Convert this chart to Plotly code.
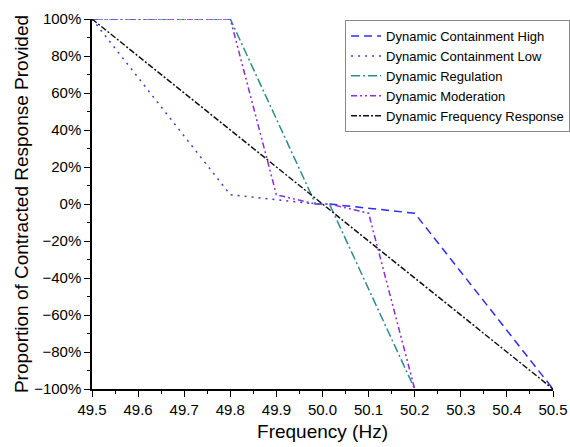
import plotly.graph_objects as go

dch_x = [50.015, 50.2, 50.5]
dch_y = [0, -5, -100]
dcl_x = [49.5, 49.8, 49.985]
dcl_y = [100, 5, 0]
dr_x = [49.5, 49.8, 49.985, 50.015, 50.2]
dr_y = [100, 100, 0, 0, -100]
dm_x = [49.5, 49.8, 49.9, 49.985, 50.015, 50.1, 50.2]
dm_y = [100, 100, 5, 0, 0, -5, -100]
dfr_x = [49.5, 50.5]
dfr_y = [100, -100]

names = ["Dynamic Containment High", "Dynamic Containment Low", "Dynamic Regulation",
         "Dynamic Moderation", "Dynamic Frequency Response"]
xs = [dch_x, dcl_x, dr_x, dm_x, dfr_x]
ys = [dch_y, dcl_y, dr_y, dm_y, dfr_y]
colors = ["#2b2bff", "#3b3bdd", "#2e8b8b", "#8a2be2", "#111111"]
dashes = ["8px,5px", "2px,5px", "9px,3px,2px,3px", "6px,3px,2px,3px,2px,3px", "6px,2px,2px,2px"]

fig = go.Figure()
for x, y, n, c, d in zip(xs, ys, names, colors, dashes):
    fig.add_trace(go.Scatter(x=x, y=y, name=n, mode="lines",
                             line=dict(color=c, dash=d, width=1.5)))

fig.update_layout(
    width=570, height=447,
    margin=dict(l=92, r=17, t=19, b=58, autoexpand=False),
    plot_bgcolor="white", paper_bgcolor="white",
    font=dict(family="Liberation Sans, Arial", color="black", size=15),
    legend=dict(x=1.037, xanchor="right", y=0.997, yanchor="top",
                bordercolor="#888888", borderwidth=1, bgcolor="white",
                font=dict(size=13), tracegroupgap=0, itemwidth=30),
    showlegend=True,
)
fig.update_xaxes(range=[49.5, 50.5], dtick=0.1, tickformat=".1f",
                 showline=True, linecolor="black", linewidth=1.5,
                 ticks="outside", ticklen=6, tickcolor="black",
                 minor=dict(ticks="outside", dtick=0.05, ticklen=3, tickcolor="black"),
                 showgrid=False, zeroline=False,
                 title=dict(text="Frequency (Hz)", font=dict(size=19), standoff=8))
fig.update_yaxes(range=[-100, 100], dtick=20, ticksuffix="%",
                 showline=True, linecolor="black", linewidth=1.5,
                 ticks="outside", ticklen=6, tickcolor="black",
                 minor=dict(ticks="outside", dtick=10, ticklen=3, tickcolor="black"),
                 showgrid=False, zeroline=False,
                 title=dict(text="Proportion of Contracted Response Provided", font=dict(size=19), standoff=0))

fig.write_html("out.html", config={"displayModeBar": False},
               post_script="document.body.style.margin='0px';document.body.style.overflow='hidden';")
